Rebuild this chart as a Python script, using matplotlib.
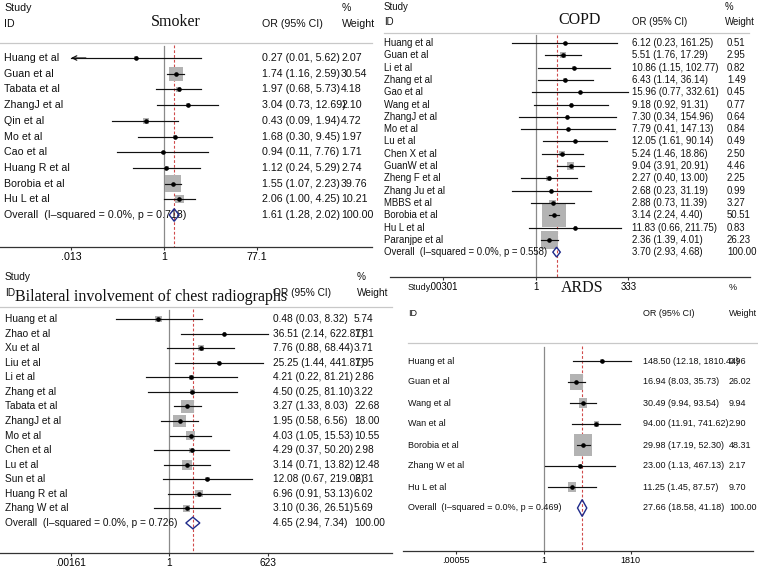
import numpy as np
import matplotlib.pyplot as plt
from matplotlib.patches import Rectangle, Polygon
from matplotlib.transforms import blended_transform_factory
from matplotlib.ticker import NullLocator

W, H = 758, 569

# ---------------- data ----------------
smk_study = ['Huang et al', 'Guan et al', 'Tabata et al', 'ZhangJ et al', 'Qin et al',
             'Mo et al', 'Cao et al', 'Huang R et al', 'Borobia et al', 'Hu L et al']
smk_or = [0.27, 1.74, 1.97, 3.04, 0.43, 1.68, 0.94, 1.12, 1.55, 2.06]
smk_lo = [0.01, 1.16, 0.68, 0.73, 0.09, 0.30, 0.11, 0.24, 1.07, 1.00]
smk_hi = [5.62, 2.59, 5.73, 12.69, 1.94, 9.45, 7.76, 5.29, 2.23, 4.25]
smk_wt = [2.07, 30.54, 4.18, 2.10, 4.72, 1.97, 1.71, 2.74, 39.76, 10.21]
smk_overall = [1.61, 1.28, 2.02]
smk_p = '0.718'
smk_ticks = [0.013, 1, 77.1]
smk_ticklabels = ['.013', '1', '77.1']

copd_study = ['Huang et al', 'Guan et al', 'Li et al', 'Zhang et al', 'Gao et al', 'Wang et al',
              'ZhangJ et al', 'Mo et al', 'Lu et al', 'Chen X et al', 'GuanW et al', 'Zheng F et al',
              'Zhang Ju et al', 'MBBS et al', 'Borobia et al', 'Hu L et al', 'Paranjpe et al']
copd_or = [6.12, 5.51, 10.86, 6.43, 15.96, 9.18, 7.30, 7.79, 12.05, 5.24, 9.04, 2.27,
           2.68, 2.88, 3.14, 11.83, 2.36]
copd_lo = [0.23, 1.76, 1.15, 1.14, 0.77, 0.92, 0.34, 0.41, 1.61, 1.46, 3.91, 0.40,
           0.23, 0.73, 2.24, 0.66, 1.39]
copd_hi = [161.25, 17.29, 102.77, 36.14, 332.61, 91.31, 154.96, 147.13, 90.14, 18.86, 20.91,
           13.00, 31.19, 11.39, 4.40, 211.75, 4.01]
copd_wt = [0.51, 2.95, 0.82, 1.49, 0.45, 0.77, 0.64, 0.84, 0.49, 2.50, 4.46, 2.25,
           0.99, 3.27, 50.51, 0.83, 26.23]
copd_overall = [3.70, 2.93, 4.68]
copd_p = '0.558'
copd_ticks = [0.00301, 1, 333]
copd_ticklabels = ['.00301', '1', '333']

bil_study = ['Huang et al', 'Zhao et al', 'Xu et al', 'Liu et al', 'Li et al', 'Zhang et al',
             'Tabata et al', 'ZhangJ et al', 'Mo et al', 'Chen et al', 'Lu et al', 'Sun et al',
             'Huang R et al', 'Zhang W et al']
bil_or = [0.48, 36.51, 7.76, 25.25, 4.21, 4.50, 3.27, 1.95, 4.03, 4.29, 3.14, 12.08, 6.96, 3.10]
bil_lo = [0.03, 2.14, 0.88, 1.44, 0.22, 0.25, 1.33, 0.58, 1.05, 0.37, 0.71, 0.67, 0.91, 0.36]
bil_hi = [8.32, 622.87, 68.44, 441.87, 81.21, 81.10, 8.03, 6.56, 15.53, 50.20, 13.82,
          219.06, 53.13, 26.51]
bil_wt = [5.74, 1.81, 3.71, 1.95, 2.86, 3.22, 22.68, 18.00, 10.55, 2.98, 12.48, 2.31, 6.02, 5.69]
bil_overall = [4.65, 2.94, 7.34]
bil_p = '0.726'
bil_ticks = [0.00161, 1, 623]
bil_ticklabels = ['.00161', '1', '623']

ards_study = ['Huang et al', 'Guan et al', 'Wang et al', 'Wan et al', 'Borobia et al',
              'Zhang W et al', 'Hu L et al']
ards_or = [148.50, 16.94, 30.49, 94.00, 29.98, 23.00, 11.25]
ards_lo = [12.18, 8.03, 9.94, 11.91, 17.19, 1.13, 1.45]
ards_hi = [1810.44, 35.73, 93.54, 741.62, 52.30, 467.13, 87.57]
ards_wt = [0.96, 26.02, 9.94, 2.90, 48.31, 2.17, 9.70]
ards_overall = [27.66, 18.58, 41.18]
ards_p = '0.469'
ards_ticks = [0.00055, 1, 1810]
ards_ticklabels = ['.00055', '1', '1810']

# ---------------- layout (pixels) ----------------
lay_smk = dict(left=0, right=372, top=0, axis_y=247.3, null_x=164, ppd=49.3, row0=58, step=15.7,
               study_x=4, ci_x=262, wt_x=341, hdr1_y=8, hdr2_y=24, title_x=176, title_y=22,
               pct_x=342, hline_y=43, hl0=0, hl1=372, bw=2.55, bh=2.6, fs=7.7)
lay_copd = dict(left=390, right=750, top=0, axis_y=276.7, null_x=535.7, ppd=36.7, row0=43,
                step=12.3, study_x=384, ci_x=632, wt_x=727, hdr1_y=7, hdr2_y=22, title_x=580,
                title_y=20, pct_x=725, hline_y=33, hl0=384, hl1=749, bw=3.4, bh=3.4, fs=6.9)
lay_bil = dict(left=0, right=392, top=268, axis_y=553, null_x=169.3, ppd=35.3, row0=319,
               step=14.57, study_x=5, ci_x=273, wt_x=354, hdr1_y=277, hdr2_y=293, title_x=151,
               title_y=297, pct_x=357, hline_y=307, hl0=0, hl1=392, bw=2.9, bh=2.9, fs=7.3)
lay_ards = dict(left=403, right=753, top=280, axis_y=550.7, null_x=543.5, ppd=26.8, row0=361,
                step=21, study_x=408, ci_x=643, wt_x=729, hdr1_y=288, hdr2_y=313, title_x=582,
                title_y=288, pct_x=729, hline_y=343, hl0=408, hl1=757, bw=2.5, bh=3.3, fs=6.5)

SANS = 'Liberation Sans'
SERIF = 'Liberation Serif'


def forest(fig, title, study, orr, lo, hi, wt, overall, p, ticks, ticklabels, L):
    wpx = L['right'] - L['left']
    hpx = L['axis_y'] - L['top']
    ax = fig.add_axes([L['left'] / W, 1 - L['axis_y'] / H, wpx / W, hpx / H])
    ax.set_facecolor('none')
    ax.set_xscale('log')
    ppd = L['ppd']
    ax.set_xlim(10 ** ((L['left'] - L['null_x']) / ppd), 10 ** ((L['right'] - L['null_x']) / ppd))
    ybot = (L['axis_y'] - L['row0']) / L['step']
    ytop = (L['top'] - L['row0']) / L['step']
    ax.set_ylim(ybot, ytop)
    for s in ['top', 'left', 'right']:
        ax.spines[s].set_visible(False)
    ax.spines['bottom'].set_color('#333333')
    ax.spines['bottom'].set_linewidth(0.9)
    ax.set_yticks([])
    ax.set_xticks(ticks)
    ax.set_xticklabels(ticklabels, fontfamily=SANS, fontsize=L['fs'])
    ax.xaxis.set_minor_locator(NullLocator())
    ax.tick_params(axis='x', length=2.5, width=0.8, pad=1.2, color='#333333')

    tr = blended_transform_factory(ax.transAxes, ax.transData)

    def fx(px):
        return (px - L['left']) / wpx

    def ry(py):
        return (py - L['row0']) / L['step']

    fs = L['fs']
    tkw = dict(fontfamily=SANS, fontsize=fs, va='center', ha='left', transform=tr, color='#111111')

    # header
    ax.text(fx(L['study_x']), ry(L['hdr1_y']), 'Study', **tkw)
    ax.text(fx(L['study_x']), ry(L['hdr2_y']), 'ID', **tkw)
    ax.text(fx(L['ci_x']), ry(L['hdr2_y']), 'OR (95% CI)', **tkw)
    ax.text(fx(L['pct_x']), ry(L['hdr1_y']), '%', **tkw)
    ax.text(fx(L['pct_x']), ry(L['hdr2_y']), 'Weight', **tkw)
    ax.text(fx(L['title_x']), ry(L['title_y']), title, fontfamily=SERIF, fontsize=11.5,
            ha='center', va='center', transform=tr, color='#111111')
    hl = ry(L['hline_y'])
    ax.plot([fx(L['hl0']), fx(L['hl1'])], [hl, hl], transform=tr, color='#c8c8c8',
            lw=0.9, clip_on=False)

    # null line and overall line
    ax.plot([1, 1], [hl + 0.2, ybot], color='#8a8a8a', lw=0.9, clip_on=False)
    ax.plot([overall[0], overall[0]], [hl + 0.15, ybot], color='#d04a4a', lw=0.8,
            ls=(0, (2.5, 1.8)), clip_on=False)

    tmin, tmax = ticks[0], ticks[-1]
    for i in range(len(study)):
        side_w = L['bw'] * np.sqrt(wt[i]) / 2 / ppd
        side_h = L['bh'] * np.sqrt(wt[i]) / 2 / L['step']
        x0 = orr[i] * 10 ** (-side_w)
        x1 = orr[i] * 10 ** side_w
        ax.add_patch(Rectangle((x0, i - side_h), x1 - x0, 2 * side_h, facecolor='#b3b3b3',
                               edgecolor='none', zorder=2))
        a = max(lo[i], tmin)
        b = min(hi[i], tmax * 1.001)
        ax.plot([a, b], [i, i], color='#111111', lw=0.85, zorder=3)
        if lo[i] < tmin:
            ax.annotate('', xy=(tmin, i), xytext=(tmin * 2.0, i),
                        arrowprops=dict(arrowstyle='->', color='#111111', lw=0.85,
                                        shrinkA=0, shrinkB=0, mutation_scale=8), zorder=3)
        ax.plot(orr[i], i, 'o', ms=2.3, color='black', zorder=4)
        ax.text(fx(L['study_x']), i, study[i], **tkw)
        ax.text(fx(L['ci_x']), i, '%.2f (%.2f, %.2f)' % (orr[i], lo[i], hi[i]), **tkw)
        ax.text(fx(L['wt_x']), i, '%.2f' % wt[i], **tkw)

    k = len(study)
    o, ol, oh = overall
    dh = 0.4
    ax.add_patch(Polygon([(ol, k), (o, k - dh), (oh, k), (o, k + dh)], closed=True,
                         facecolor='none', edgecolor='#1f2a8a', lw=1.0, zorder=4))
    ax.text(fx(L['study_x']), k, 'Overall  (I\u2013squared = 0.0%%, p = %s)' % p, **tkw)
    ax.text(fx(L['ci_x']), k, '%.2f (%.2f, %.2f)' % (o, ol, oh), **tkw)
    ax.text(fx(L['wt_x']), k, '100.00', **tkw)
    return ax


fig = plt.figure(figsize=(W / 100, H / 100), dpi=100)
fig.patch.set_facecolor('white')

forest(fig, 'Smoker', smk_study, smk_or, smk_lo, smk_hi, smk_wt, smk_overall, smk_p,
       smk_ticks, smk_ticklabels, lay_smk)
forest(fig, 'COPD', copd_study, copd_or, copd_lo, copd_hi, copd_wt, copd_overall, copd_p,
       copd_ticks, copd_ticklabels, lay_copd)
forest(fig, 'Bilateral involvement of chest radiographs', bil_study, bil_or, bil_lo, bil_hi,
       bil_wt, bil_overall, bil_p, bil_ticks, bil_ticklabels, lay_bil)
forest(fig, 'ARDS', ards_study, ards_or, ards_lo, ards_hi, ards_wt, ards_overall, ards_p,
       ards_ticks, ards_ticklabels, lay_ards)

fig.savefig('out.png', dpi=100)
